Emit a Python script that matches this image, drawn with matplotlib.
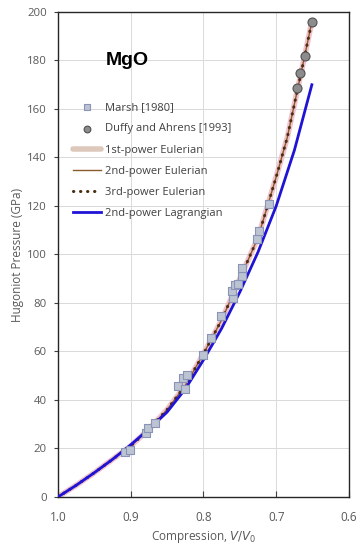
import matplotlib.pyplot as plt

# Marsh [1980] shock data (V/V0, GPa)
marsh_v = [0.908, 0.901, 0.879, 0.876, 0.866, 0.835, 0.825, 0.828, 0.822, 0.801,
           0.789, 0.776, 0.760, 0.761, 0.756, 0.752, 0.747, 0.747, 0.726, 0.723, 0.710]
marsh_p = [18.4, 19.4, 26.5, 28.3, 30.5, 45.8, 44.4, 48.9, 50.2, 58.6,
           65.4, 74.8, 81.9, 84.9, 87.4, 87.7, 91.1, 94.3, 106.3, 109.7, 120.8]

# Duffy and Ahrens [1993]
duffy_v = [0.671, 0.667, 0.661, 0.651]
duffy_p = [168.8, 175.0, 181.9, 195.9]

# Eulerian fits (all three nearly coincide)
eul_v = [1.0, 0.975, 0.95, 0.925, 0.9, 0.875, 0.85, 0.825, 0.8, 0.775, 0.75,
         0.725, 0.7, 0.685, 0.675, 0.665, 0.651]
eul_p = [0, 4.8, 10, 15.5, 21, 28, 36, 46, 59, 73, 90,
         107, 132, 148, 162, 176, 196]

# 2nd-power Lagrangian fit
lag_v = [1.0, 0.975, 0.95, 0.925, 0.9, 0.875, 0.85, 0.825, 0.8, 0.775, 0.75,
         0.725, 0.7, 0.675, 0.651]
lag_p = [0, 4.8, 10, 15.5, 21.5, 28, 35, 44.5, 56.5, 69.5, 84.5,
         101, 120, 143, 170]

plt.rcParams['font.family'] = ['Open Sans', 'DejaVu Sans']
grey = '#595959'

fig = plt.figure(figsize=(3.62, 5.5), dpi=100)
ax = fig.add_axes([0.160, 0.0964, 0.804, 0.8818])

ax.grid(True, color='#d9d9d9', lw=0.7)
ax.set_axisbelow(True)

ax.plot(eul_v, eul_p, color='#eeb8c4', lw=4, alpha=0.85, solid_capstyle='round',
        label='1st-power Eulerian', zorder=2)
ax.plot(eul_v, eul_p, color='#8b5a2b', lw=1, label='2nd-power Eulerian', zorder=3)
ax.plot(eul_v, eul_p, color='#4a2e12', lw=2.2, ls=(0, (0.1, 2.2)),
        dash_capstyle='round', label='3rd-power Eulerian', zorder=4)
ax.plot(lag_v, lag_p, color='#1f14d6', lw=2, label='2nd-power Lagrangian', zorder=5)
ax.scatter(marsh_v, marsh_p, marker='s', s=38, facecolor='#bcc3d1',
           edgecolor='#8a93b8', lw=0.8, label='Marsh [1980]', zorder=6)
ax.scatter(duffy_v, duffy_p, marker='o', s=42, facecolor='#8c8c8c',
           edgecolor='#505050', lw=0.8, label='Duffy and Ahrens [1993]', zorder=6)

ax.set_xlim(1.0, 0.6)
ax.set_ylim(0, 200)
ax.set_xticks([1.0, 0.9, 0.8, 0.7, 0.6])
ax.set_xticklabels(['1.0', '0.9', '0.8', '0.7', '0.6'])
ax.set_yticks(range(0, 201, 20))
ax.tick_params(axis='x', direction='in', length=4, colors='#404040',
               labelcolor=grey, labelsize=8.5, pad=10)
ax.tick_params(axis='y', direction='out', length=3, colors='#404040',
               labelcolor=grey, labelsize=8.2, pad=5)
for s in ax.spines.values():
    s.set_color('#262626')
    s.set_linewidth(1)

ax.set_xlabel('Compression, $V/V_0$', color=grey, fontsize=8.5, labelpad=4)
ax.set_ylabel('Hugoniot Pressure (GPa)', color=grey, fontsize=8.5)
ax.yaxis.set_label_coords(-0.118, 0.5)

ax.text(0.904, 180, 'MgO', fontsize=14, fontweight='bold', ha='center',
        va='center', family=['Liberation Sans', 'DejaVu Sans'])

h, l = ax.get_legend_handles_labels()
order = [4, 5, 0, 1, 2, 3]
leg = ax.legend([h[i] for i in order], [l[i] for i in order], loc='upper left',
                bbox_to_anchor=(0.035, 0.823), frameon=False, fontsize=8,
                handlelength=2.6, labelspacing=0.92, handletextpad=0.3,
                borderaxespad=0, markerscale=0.75)
for t in leg.get_texts():
    t.set_color('#404040')
# legend swatch for the 1st-power curve is beige in the original
leg.get_lines()[0].set_color('#d8c0b0')

fig.savefig('out.png', dpi=100)
